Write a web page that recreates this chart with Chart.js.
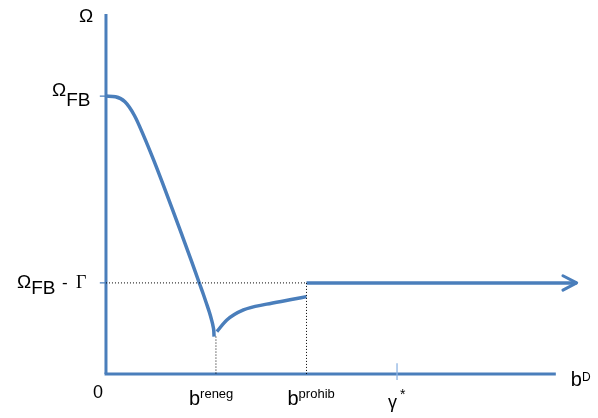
<!DOCTYPE html>
<html>
<head>
<meta charset="utf-8">
<script src="https://cdn.jsdelivr.net/npm/chart.js@4"></script>
<style>
  body { margin: 0; background: #fff; }
  #wrap { width: 598px; height: 418px; }
</style>
</head>
<body>
<div id="wrap"><canvas id="canvasGraph"></canvas></div>
<script>
// valeurs (axes de 0 à 100)
var omegaFB = 77.2;
var omegaFBmoinsGamma = 25.3;
var bReneg = 23.2;
var bProhib = 42.3;
var gammaEtoile = 61.4;
var finAxeX = 94.9;
var finFleche = 99.3;

// courbe descendante
var courbe1X = [0, 2, 4, 6, 8, 10, 12, 14, 16, 18, 19.7, 20.5, 21.2, 21.8, 22.3, 22.6, 22.75, 22.8];
var courbe1Y = [77.2, 77.0, 75.6, 71.8, 66.0, 59.6, 52.8, 45.8, 38.7, 31.5, 25.2, 22.3, 19.6, 17.2, 14.9, 13.2, 11.9, 10.4];

// courbe remontante
var courbe2X = [23.4, 25.5, 29.0, 33.9, 38.8, 42.3];
var courbe2Y = [11.8, 15.0, 17.8, 19.4, 20.6, 21.5];

// pointe de la flèche
var flecheX = [96.4, finFleche, 96.4];
var flecheY = [27.3, omegaFBmoinsGamma, 23.3];

// étiquettes des axes
var etiquettesX = ["0", "b", "b", "γ"];
var exposantsX = ["", "reneg", "prohib", "*"];
var valeursX = [0, bReneg, bProhib, gammaEtoile];

var bleu = "#4a7ebb";

function Points(xs, ys)
{
    var pts = [];
    for (var i = 0; i < xs.length; i++)
    {
        pts.push({x: xs[i], y: ys[i]});
    }
    return pts;
}

function Trait(data, couleur, epaisseur, tirets)
{
    return {
        data: data,
        borderColor: couleur,
        borderWidth: epaisseur,
        borderDash: tirets || [],
        showLine: true,
        pointRadius: 0,
        fill: false,
        borderCapStyle: "butt"
    };
}

var sans = "'Liberation Sans', Arial, sans-serif";
var serif = "'Liberation Serif', 'Times New Roman', serif";

// dessine un texte en morceaux (indices, exposants)
// sans dx, le morceau suit le précédent
function Ecrire(ctx, x0, y0, morceaux)
{
    ctx.fillStyle = "#000";
    ctx.textBaseline = "alphabetic";
    ctx.textAlign = "left";
    var fin = x0;
    for (var i = 0; i < morceaux.length; i++)
    {
        var m = morceaux[i];
        ctx.font = m.font;
        var x = (m.dx === undefined) ? fin + (m.gap || 0) : x0 + m.dx;
        ctx.fillText(m.t, x, y0 + m.dy);
        fin = x + ctx.measureText(m.t).width;
    }
}

var pluginTextes = {
    id: "textes",
    afterDraw: function(chart)
    {
        var ctx = chart.ctx;
        var sx = chart.scales.x;
        var sy = chart.scales.y;
        var x0 = sx.getPixelForValue(0);
        ctx.save();

        Ecrire(ctx, x0, sy.getPixelForValue(100), [
            {t: "Ω", font: "19px " + sans, dx: -27, dy: 8}
        ]);
        Ecrire(ctx, x0, sy.getPixelForValue(omegaFB), [
            {t: "Ω", font: "19px " + sans, dx: -54, dy: 0},
            {t: "FB", font: "19px " + sans, dy: 10}
        ]);
        Ecrire(ctx, x0, sy.getPixelForValue(omegaFBmoinsGamma), [
            {t: "Ω", font: "19px " + sans, dx: -89, dy: 5},
            {t: "FB", font: "19px " + sans, dy: 11},
            {t: "-", font: "17px " + sans, dx: -44, dy: 5},
            {t: "Γ", font: "18px " + serif, dx: -30, dy: 5}
        ]);

        var yBas = sy.getPixelForValue(0);
        Ecrire(ctx, sx.getPixelForValue(valeursX[0]), yBas, [
            {t: etiquettesX[0], font: "18px " + sans, dx: -13, dy: 24}
        ]);
        Ecrire(ctx, sx.getPixelForValue(valeursX[1]), yBas, [
            {t: etiquettesX[1], font: "20px " + sans, dx: -27, dy: 31},
            {t: exposantsX[1], font: "13px " + sans, dy: 24, gap: 0}
        ]);
        Ecrire(ctx, sx.getPixelForValue(valeursX[2]), yBas, [
            {t: etiquettesX[2], font: "20px " + sans, dx: -19, dy: 31},
            {t: exposantsX[2], font: "13px " + sans, dy: 24, gap: 0}
        ]);
        Ecrire(ctx, sx.getPixelForValue(valeursX[3]), yBas, [
            {t: etiquettesX[3], font: "18px " + sans, dx: -9, dy: 34},
            {t: exposantsX[3], font: "14px " + sans, dx: 3, dy: 25}
        ]);
        Ecrire(ctx, sx.getPixelForValue(finAxeX), yBas, [
            {t: "b", font: "20px " + sans, dx: 15, dy: 12},
            {t: "D", font: "12px " + sans, dy: 7, gap: 0}
        ]);
        ctx.restore();
    }
};

var graphTarget = document.getElementById("canvasGraph");

var graph = new Chart(graphTarget, {
    type: "scatter",
    data: {
        datasets: [
            // pointillés
            Trait(Points([0, bProhib], [omegaFBmoinsGamma, omegaFBmoinsGamma]), "#000", 1, [1, 2]),
            Trait(Points([bReneg, bReneg], [courbe1Y[courbe1Y.length - 1], 0]), "#000", 1, [1, 2]),
            Trait(Points([bProhib, bProhib], [omegaFBmoinsGamma, 0]), "#000", 1, [1, 2]),
            // petites graduations
            Trait(Points([-1.3, 0], [omegaFB, omegaFB]), bleu, 1.3),
            Trait(Points([-1.3, 0], [omegaFBmoinsGamma, omegaFBmoinsGamma]), bleu, 1.3),
            Trait(Points([gammaEtoile, gammaEtoile], [-1.7, 3]), "#8eb4e3", 1.3),
            // axes
            Trait(Points([0, 0], [0, 100]), bleu, 3),
            Trait(Points([-0.3, finAxeX], [0, 0]), bleu, 3),
            // courbes
            Object.assign(Trait(Points(courbe1X, courbe1Y), bleu, 3.5), {cubicInterpolationMode: "monotone"}),
            Object.assign(Trait(Points(courbe2X, courbe2Y), bleu, 3.5), {cubicInterpolationMode: "monotone"}),
            Trait(Points([bProhib, finFleche], [omegaFBmoinsGamma, omegaFBmoinsGamma]), bleu, 3.5),
            Object.assign(Trait(Points(flecheX, flecheY), bleu, 3), {borderCapStyle: "round", borderJoinStyle: "round"})
        ]
    },
    options: {
        responsive: true,
        maintainAspectRatio: false,
        animation: false,
        layout: {
            padding: {left: 96.5, right: 18, top: 14, bottom: 36.8}
        },
        plugins: {
            legend: {display: false},
            tooltip: {enabled: false}
        },
        scales: {
            x: {type: "linear", min: -2, max: 100, display: false},
            y: {type: "linear", min: -2, max: 100, display: false}
        }
    },
    plugins: [pluginTextes]
});
</script>
</body>
</html>
